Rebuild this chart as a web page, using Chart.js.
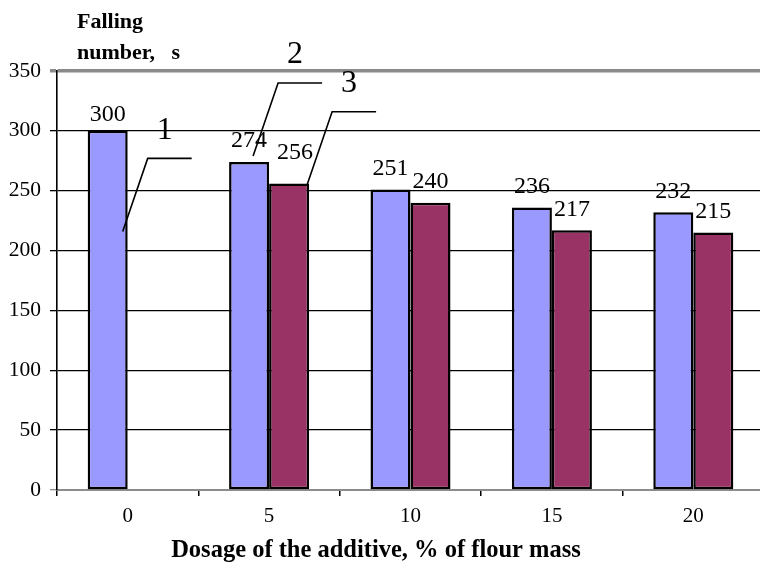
<!DOCTYPE html>
<html>
<head>
<meta charset="utf-8">
<title>Falling number vs. additive dosage</title>
<script src="https://cdn.jsdelivr.net/npm/chart.js@4/dist/chart.umd.min.js"></script>
<style>
  html, body { margin: 0; padding: 0; background: #fff; overflow: hidden; }
  canvas { display: block; }
</style>
</head>
<body>
<canvas id="c" width="764" height="563"></canvas>
<script>
// Additive dosage, % of flour mass
const categories = ['0', '5', '10', '15', '20'];
// Falling number, s — sample 1 (control / first additive) and sample 2
const series1 = [300, 274, 251, 236, 232];
const series2 = [null, 256, 240, 217, 215];
// Value axis
const yMin = 0, yMax = 350, yStep = 50;

const SERIF = "'Liberation Serif', 'Times New Roman', serif";

// Numeric labels above each bar
const valueLabels = {
  id: 'valueLabels',
  afterDatasetsDraw(chart, args, opts) {
    const ctx = chart.ctx;
    ctx.save();
    ctx.font = `${opts.size}px ${SERIF}`;
    ctx.fillStyle = '#000';
    ctx.textAlign = 'center';
    ctx.textBaseline = 'middle';
    chart.data.datasets.forEach((ds, di) => {
      const meta = chart.getDatasetMeta(di);
      meta.data.forEach((bar, i) => {
        const v = ds.data[i];
        if (v === null || v === undefined) return;
        const nudge = (opts.nudge[di] && opts.nudge[di][i]) || [0, 0];
        ctx.fillText(String(v), bar.x + nudge[0], bar.y - opts.gap + nudge[1]);
      });
    });
    ctx.restore();
  }
};

// Numbered callouts with elbow leader lines pointing into bars
const callouts = {
  id: 'callouts',
  afterDatasetsDraw(chart, args, opts) {
    const ctx = chart.ctx;
    const y = chart.scales.y;
    ctx.save();
    ctx.strokeStyle = '#000';
    ctx.lineWidth = 1.6;
    ctx.fillStyle = '#000';
    ctx.font = `${opts.size}px ${SERIF}`;
    ctx.textAlign = 'center';
    ctx.textBaseline = 'middle';
    opts.items.forEach(c => {
      const bar = chart.getDatasetMeta(c.dataset).data[c.index];
      const ax = bar.x + c.dx;
      const ay = y.getPixelForValue(c.value);
      const ex = ax + opts.elbow[0];
      const ey = ay + opts.elbow[1];
      ctx.beginPath();
      ctx.moveTo(ax, ay);
      ctx.lineTo(ex, ey);
      ctx.lineTo(ex + opts.shelf, ey);
      ctx.stroke();
      ctx.fillText(c.text, ex + opts.textOffset[0], ey + opts.textOffset[1]);
    });
    ctx.restore();
  }
};

// Axis titles
const axisTitles = {
  id: 'axisTitles',
  afterDraw(chart) {
    const ctx = chart.ctx;
    ctx.save();
    ctx.fillStyle = '#000';
    ctx.font = `bold 22px ${SERIF}`;
    ctx.textBaseline = 'alphabetic';
    ctx.textAlign = 'left';
    ctx.fillText('Falling', 77, 28);
    ctx.fillText('number,   s', 77, 59);
    ctx.font = `bold 24.5px ${SERIF}`;
    ctx.textAlign = 'center';
    ctx.fillText('Dosage of the additive, % of flour mass', 376, 557);
    ctx.restore();
  }
};

new Chart(document.getElementById('c'), {
  type: 'bar',
  data: {
    labels: categories,
    datasets: [
      {
        data: series1,
        backgroundColor: '#9999FF',
        borderColor: '#000',
        borderWidth: 2.5,
        borderSkipped: false
      },
      {
        data: series2,
        backgroundColor: '#993366',
        borderColor: '#000',
        borderWidth: 2.5,
        borderSkipped: false
      }
    ]
  },
  options: {
    responsive: false,
    animation: false,
    layout: { padding: { top: 71, left: 0, right: 0, bottom: 0 } },
    datasets: { bar: { categoryPercentage: 0.566, barPercentage: 1.0 } },
    plugins: {
      legend: { display: false },
      tooltip: { enabled: false },
      valueLabels: {
        size: 24,
        gap: 21,
        nudge: { 0: { 0: [0, 5] }, 1: { 1: [6, -10] } }
      },
      callouts: {
        size: 32,
        elbow: [25, -73],
        shelf: 44,
        textOffset: [17, -28],
        items: [
          { text: '1', dataset: 0, index: 0, dx: 15, value: 216 },
          { text: '2', dataset: 0, index: 1, dx: 4, value: 279 },
          { text: '3', dataset: 1, index: 1, dx: 18, value: 255 }
        ]
      }
    },
    scales: {
      x: {
        grid: {
          offset: true,
          drawOnChartArea: false,
          drawTicks: true,
          tickLength: 6,
          color: '#000',
          lineWidth: 1.5
        },
        border: { display: true, color: '#8c8c8c', width: 2 },
        ticks: {
          color: '#000',
          font: { family: SERIF, size: 21 },
          padding: 8
        },
        afterFit(scale) { scale.height = 73; }
      },
      y: {
        min: yMin,
        max: yMax,
        ticks: {
          stepSize: yStep,
          color: '#000',
          font: { family: SERIF, size: 21.5 },
          padding: 9
        },
        grid: {
          drawTicks: true,
          tickLength: 7,
          color: ctx => (ctx.tick && ctx.tick.value === yMax) ? '#8a8a8a'
                       : (ctx.tick && ctx.tick.value === yMin) ? '#8c8c8c' : '#000',
          lineWidth: ctx => (ctx.tick && ctx.tick.value === yMax) ? 3.5 : 1.3
        },
        border: { display: true, color: '#000', width: 1.6 },
        afterFit(scale) { scale.width = 57; }
      }
    }
  },
  plugins: [valueLabels, callouts, axisTitles]
});
</script>
</body>
</html>
